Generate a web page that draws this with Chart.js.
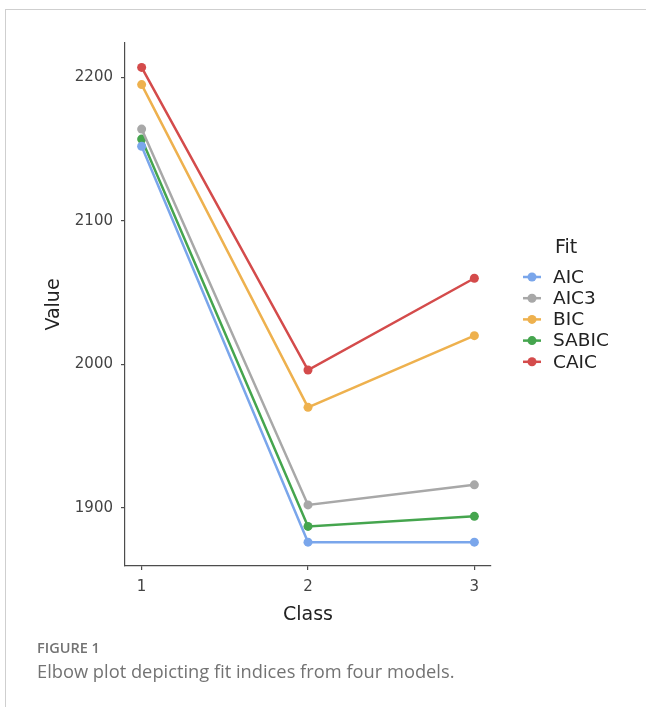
<!DOCTYPE html>
<html>
<head>
<meta charset="utf-8">
<script src="https://cdn.jsdelivr.net/npm/chart.js@4"></script>
<style>
  html, body { margin: 0; padding: 0; background: #fff; }
  body { width: 646px; height: 707px; position: relative; overflow: hidden; }
  #frame { position: absolute; left: 5px; top: 9px; right: -2px; bottom: -2px;
           border-left: 1px solid #cfcfcf; border-top: 1px solid #cfcfcf; }
  #wrap { position: absolute; left: 0; top: 0; width: 646px; height: 640px; }
  .fig { position: absolute; left: 37px; color: #737373; font-family: "Open Sans", Lato, sans-serif; }
  #figno { top: 638px; font-size: 14.5px; font-weight: 600; }
  #figcap { top: 658px; font-size: 18.3px; }
</style>
</head>
<body>
<div id="frame"></div>
<div id="wrap"><canvas id="chart" width="646" height="640"></canvas></div>
<div class="fig" id="figno">FIGURE 1</div>
<div class="fig" id="figcap">Elbow plot depicting fit indices from four models.</div>
<script>
// Elbow plot: fit indices by number of classes

const classes = [1, 2, 3];
const fitNames = ['AIC', 'AIC3', 'BIC', 'SABIC', 'CAIC'];
const aic   = [2152, 1876, 1876];
const aic3  = [2164, 1902, 1916];
const bic   = [2195, 1970, 2020];
const sabic = [2157, 1887, 1894];
const caic  = [2207, 1996, 2060];
const yTicks = [1900, 2000, 2100, 2200];

const colors = ['#7aa6eb', '#a8a8a8', '#eeb14e', '#45a54e', '#d44b4b'];
const series = [aic, aic3, bic, sabic, caic];

const axisColor = '#4d4d4d';
const textColor = '#444';
const font = 'DejaVu Sans';

// legend drawn on the canvas, ggplot style
const legendPlugin = {
    id: 'fitLegend',
    afterDraw(chart) {
        const ctx = chart.ctx;
        ctx.save();
        ctx.fillStyle = '#222';
        ctx.font = '19px "' + font + '"';
        ctx.textBaseline = 'middle';
        ctx.textAlign = 'left';
        ctx.fillText('Fit', 555, 248);
        chart.data.datasets.forEach(function (ds, i) {
            const y = 277 + i * 21.2;
            ctx.strokeStyle = ds.borderColor;
            ctx.lineWidth = 2.5;
            ctx.beginPath();
            ctx.moveTo(523, y);
            ctx.lineTo(541, y);
            ctx.stroke();
            ctx.fillStyle = ds.borderColor;
            ctx.beginPath();
            ctx.arc(532, y, 4.5, 0, Math.PI * 2);
            ctx.fill();
            ctx.fillStyle = '#222';
            ctx.font = '18.5px "' + font + '"';
            ctx.fillText(ds.label, 553, y + 1);
        });
        ctx.restore();
    }
};

const datasets = fitNames.map(function (name, i) {
    return {
        label: name,
        data: classes.map(function (c, j) { return { x: c, y: series[i][j] }; }),
        borderColor: colors[i],
        backgroundColor: colors[i],
        borderWidth: 2.5,
        pointRadius: 4.5,
        pointBorderWidth: 0,
        showLine: true,
        tension: 0
    };
});

new Chart(document.getElementById('chart'), {
    type: 'scatter',
    data: { datasets: datasets },
    options: {
        responsive: false,
        animation: false,
        layout: { padding: { left: 0, right: 155, top: 43, bottom: 13.6 } },
        plugins: {
            legend: { display: false },
            tooltip: { enabled: false }
        },
        scales: {
            x: {
                type: 'linear',
                min: 0.9,
                max: 3.1,
                afterBuildTicks: function (scale) {
                    scale.ticks = classes.map(function (v) { return { value: v }; });
                },
                afterFit: function (scale) { scale.height = 60.4; },
                border: { display: true, color: axisColor, width: 1.2 },
                grid: { display: true, drawOnChartArea: false, drawTicks: true, tickLength: 4, color: axisColor, lineWidth: 1.2 },
                ticks: {
                    color: textColor, font: { family: font, size: 15 }, padding: 8,
                    callback: function (v) { return String(v); }
                },
                title: { display: true, text: 'Class', color: '#222', font: { family: font, size: 19 }, padding: 0 }
            },
            y: {
                type: 'linear',
                min: 1859.4,
                max: 2224,
                afterBuildTicks: function (scale) {
                    scale.ticks = yTicks.map(function (v) { return { value: v }; });
                },
                afterFit: function (scale) { scale.width = 125; },
                border: { display: true, color: axisColor, width: 1.2 },
                grid: { display: true, drawOnChartArea: false, drawTicks: true, tickLength: 4, color: axisColor, lineWidth: 1.2 },
                ticks: {
                    color: textColor, font: { family: font, size: 15 }, padding: 8,
                    callback: function (v) { return String(v); }
                },
                title: { display: true, text: 'Value', color: '#222', font: { family: font, size: 19 }, padding: { top: 43, bottom: 0 } }
            }
        }
    },
    plugins: [legendPlugin]
});
</script>
</body>
</html>
